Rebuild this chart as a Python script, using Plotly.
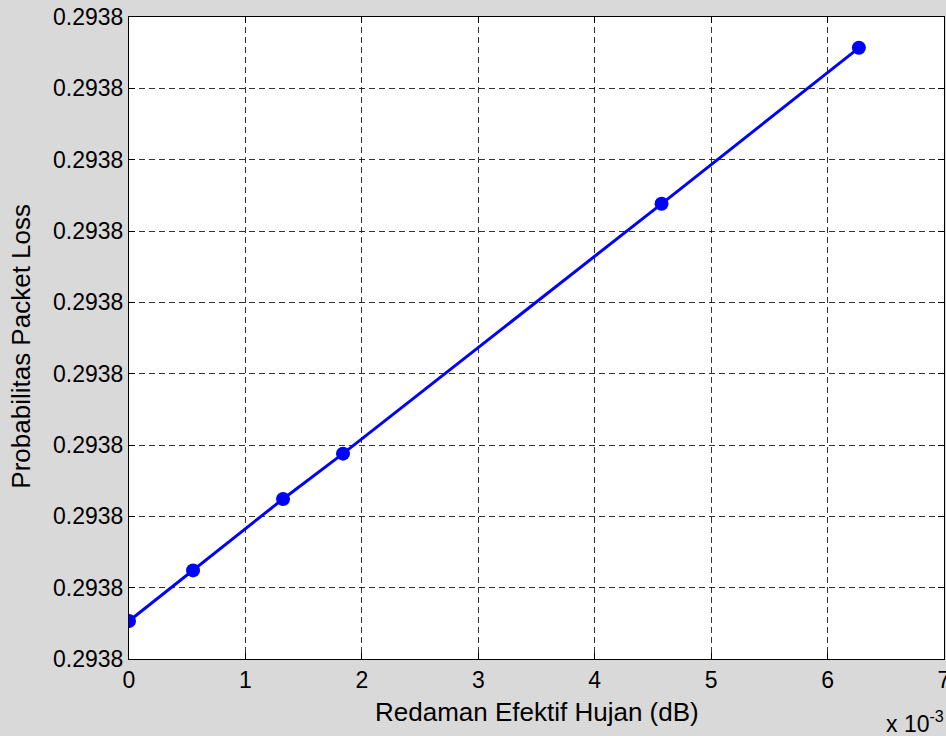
import plotly.graph_objects as go

# Effective rain attenuation (dB) and resulting packet-loss probability
redaman_db = [0.0, 0.00055, 0.001323, 0.001838, 0.004574, 0.006269]
loss_base = 0.2938
loss_offset_e9 = [0.533, 1.242, 2.244, 2.879, 6.381, 8.568]  # offset above base, units of 1e-9
prob_loss = [loss_base + d * 1e-9 for d in loss_offset_e9]

x_ticks = [i * 1e-3 for i in range(8)]
x_ticktext = [f"{v * 1e3:g}" for v in x_ticks]
y_ticks = [loss_base + k * 1e-9 for k in range(10)]
y_ticktext = [f"{v:.4f}" for v in y_ticks]

FONT = "Liberation Sans, Arial, Helvetica, sans-serif"
W, H = 946, 736
ML, MR, MT, MB = 129, 2, 17, 77

fig = go.Figure()
fig.add_trace(go.Scatter(
    x=redaman_db, y=prob_loss,
    mode="lines+markers",
    line=dict(color="#0000ff", width=3),
    marker=dict(color="#0000ff", size=14),
    showlegend=False,
    hoverinfo="skip",
))

axis_common = dict(
    showline=True, linecolor="black", linewidth=1, mirror="ticks",
    ticks="inside", ticklen=6, tickcolor="black",
    showgrid=True, gridcolor="rgba(0,0,0,0.8)", gridwidth=1, griddash="6px,4px",
    zeroline=False, automargin=False,
    ticklabeloverflow="allow",
    tickfont=dict(family=FONT, size=23, color="black"),
)

fig.update_xaxes(**axis_common, range=[0, 0.007], tickmode="array",
                 tickvals=x_ticks, ticktext=x_ticktext)
fig.update_yaxes(**axis_common, range=[y_ticks[0], y_ticks[-1]], tickmode="array",
                 tickvals=y_ticks, ticktext=y_ticktext)

plot_h = H - MT - MB
# axis titles placed in paper coordinates
fig.add_annotation(
    text="Redaman Efektif Hujan (dB)", xref="paper", yref="paper",
    x=0.5, y=-(712 - (H - MB)) / plot_h, xanchor="center", yanchor="middle",
    showarrow=False, font=dict(family=FONT, size=26, color="black"),
)
fig.add_annotation(
    text="Probabilitas Packet Loss", xref="paper", yref="paper",
    x=-(ML - 21) / (W - ML - MR), y=0.488, xanchor="center", yanchor="middle",
    textangle=-90, showarrow=False, font=dict(family=FONT, size=26, color="black"),
)
fig.add_annotation(
    text="x 10<sup>-3</sup>", xref="paper", yref="paper", x=1.003, y=-0.124,
    xanchor="right", yanchor="bottom", showarrow=False,
    font=dict(family=FONT, size=23, color="black"),
)

fig.update_layout(
    width=W, height=H,
    margin=dict(l=ML, r=MR, t=MT, b=MB),
    paper_bgcolor="#d9d9d9", plot_bgcolor="white",
)

fig.write_html("out.html")
